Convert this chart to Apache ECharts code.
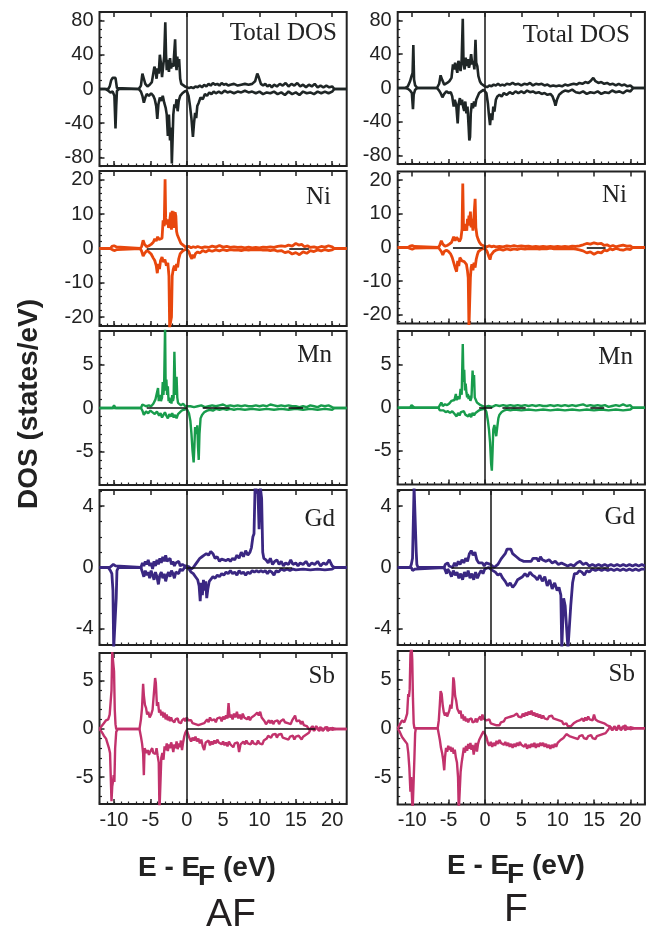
<!DOCTYPE html>
<html><head><meta charset="utf-8">
<script src="https://cdn.jsdelivr.net/npm/echarts@6/dist/echarts.min.js"></script>
<style>html,body{margin:0;padding:0;background:#fff}#c{width:646px;height:933px}</style>
</head><body><div id="c"></div>
<script>
// ---------------- DATA ([E - EF (eV), DOS (states/eV)]) ----------------
const xTickLabels = [-10, -5, 0, 5, 10, 15, 20];
const panelNames = ['Total DOS', 'Ni', 'Mn', 'Gd', 'Sb'];
const columnNames = ['AF', 'F'];

const totalAFUp = [[-12,0],[-10.8,0],[-10.6,3],[-10.4,10],[-10.2,13],[-10.0,12],[-9.8,13],[-9.6,1],[-9.4,0],[-6.6,0],[-6.3,4],[-6.1,18],[-5.9,12],[-5.7,6],[-5.4,3],[-5.1,5],[-4.8,8],[-4.6,10],[-4.45,26],[-4.3,22],[-4.15,12],[-4.0,24],[-3.85,18],[-3.7,40],[-3.55,30],[-3.4,14],[-3.25,26],[-3.1,38],[-2.95,78],[-2.85,40],[-2.75,22],[-2.6,34],[-2.45,20],[-2.3,36],[-2.15,24],[-2.0,30],[-1.85,26],[-1.7,45],[-1.6,58],[-1.5,30],[-1.4,22],[-1.3,38],[-1.2,26],[-1.05,35],[-0.9,12],[-0.75,6],[-0.5,5],[-0.25,3],[0,2],[0.3,1],[0.6,2],[0.9,1],[1.2,3],[1.5,2],[1.8,4],[2.1,2],[2.4,5],[2.7,3],[3,6],[3.3,4],[3.6,7],[3.9,5],[4.2,6],[4.5,4],[4.8,7],[5.1,5],[5.4,6],[5.7,4],[6,5],[6.5,6],[7,4],[7.5,5],[8,6],[8.5,5],[9,6],[9.4,9],[9.7,18],[9.9,14],[10.2,6],[10.5,4],[10.8,6],[11.1,3],[11.4,5],[11.7,2],[12,5],[12.4,3],[12.8,6],[13.2,4],[13.6,7],[14,3],[14.4,6],[14.8,4],[15.2,7],[15.6,3],[16,5],[16.4,2],[16.8,5],[17.2,3],[17.6,6],[18,2],[18.4,4],[18.8,2],[19.2,4],[19.6,2],[20,3],[20.3,0],[22,0]];
const totalAFDn = [[-12,0],[-11.2,0],[-10.8,-2],[-10.5,-4],[-10.2,-3],[-9.95,-8],[-9.8,-46],[-9.7,-20],[-9.6,-2],[-9.3,0],[-6.6,0],[-6.3,-3],[-6.1,-8],[-5.9,-16],[-5.7,-10],[-5.5,-6],[-5.2,-8],[-4.9,-5],[-4.6,-8],[-4.4,-12],[-4.2,-20],[-4.05,-35],[-3.9,-18],[-3.7,-10],[-3.5,-14],[-3.3,-8],[-3.1,-16],[-2.9,-22],[-2.75,-30],[-2.6,-55],[-2.45,-30],[-2.3,-60],[-2.15,-45],[-2.05,-87],[-1.95,-60],[-1.85,-30],[-1.7,-18],[-1.55,-22],[-1.4,-12],[-1.25,-26],[-1.1,-14],[-0.9,-8],[-0.6,-5],[-0.3,-3],[0,-2],[0.25,-8],[0.45,-20],[0.65,-35],[0.85,-56],[1.0,-40],[1.15,-28],[1.3,-34],[1.45,-20],[1.65,-16],[1.9,-10],[2.2,-12],[2.5,-6],[2.8,-8],[3.1,-4],[3.4,-6],[3.7,-3],[4,-5],[4.4,-3],[4.8,-5],[5.2,-2],[5.6,-4],[6,-3],[6.5,-5],[7,-3],[7.5,-4],[8,-2],[8.5,-4],[9,-3],[9.5,-5],[10,-3],[10.5,-6],[11,-4],[11.5,-5],[12,-3],[12.5,-6],[13,-4],[13.5,-7],[14,-3],[14.5,-6],[15,-4],[15.5,-7],[16,-3],[16.5,-5],[17,-4],[17.5,-6],[18,-3],[18.5,-5],[19,-3],[19.5,-5],[20,-3],[20.3,0],[22,0]];
const totalFUp = [[-12,0],[-11,0],[-10.6,2],[-10.3,8],[-10.1,14],[-9.95,18],[-9.85,51],[-9.75,10],[-9.6,3],[-9.3,0],[-6.6,0],[-6.3,5],[-6.1,15],[-5.9,10],[-5.6,4],[-5.2,6],[-4.9,8],[-4.6,12],[-4.4,28],[-4.25,22],[-4.1,30],[-3.95,24],[-3.8,18],[-3.65,32],[-3.5,28],[-3.35,20],[-3.2,34],[-3.05,82],[-2.95,30],[-2.8,22],[-2.65,36],[-2.5,26],[-2.35,34],[-2.2,24],[-2.05,30],[-1.9,40],[-1.75,28],[-1.6,32],[-1.45,22],[-1.3,57],[-1.2,30],[-1.05,26],[-0.9,14],[-0.7,8],[-0.5,5],[-0.25,3],[0,2],[0.3,1],[0.6,3],[0.9,2],[1.2,4],[1.5,3],[1.8,5],[2.1,3],[2.4,4],[2.7,3],[3,5],[3.4,4],[3.8,6],[4.2,4],[4.6,5],[5,3],[5.4,5],[5.8,4],[6.2,6],[6.6,3],[7,5],[7.4,4],[7.8,5],[8.2,3],[8.6,4],[9,2],[9.4,3],[9.8,2],[10.2,3],[10.6,2],[11,4],[11.4,3],[11.8,4],[12.2,5],[12.6,4],[13,6],[13.4,5],[13.8,7],[14.2,6],[14.6,9],[14.9,12],[15.2,8],[15.6,6],[16,7],[16.4,5],[16.8,6],[17.2,4],[17.6,5],[18,3],[18.4,5],[18.8,3],[19.2,4],[19.6,2],[20,3],[20.4,0],[22,0]];
const totalFDn = [[-12,0],[-11,0],[-10.6,-1],[-10.3,-3],[-10.05,-6],[-9.9,-25],[-9.8,-8],[-9.6,-2],[-9.3,0],[-6.6,0],[-6.3,-3],[-6.1,-6],[-5.85,-11],[-5.6,-7],[-5.3,-4],[-5,-6],[-4.7,-5],[-4.5,-10],[-4.3,-22],[-4.15,-14],[-3.95,-20],[-3.75,-42],[-3.6,-18],[-3.45,-12],[-3.3,-20],[-3.15,-14],[-3.0,-22],[-2.85,-27],[-2.7,-16],[-2.55,-30],[-2.4,-22],[-2.25,-45],[-2.15,-62],[-2.05,-58],[-1.95,-30],[-1.8,-18],[-1.65,-24],[-1.5,-16],[-1.35,-22],[-1.2,-14],[-1.0,-12],[-0.8,-6],[-0.5,-4],[-0.2,-2],[0,-1],[0.2,-6],[0.4,-18],[0.55,-32],[0.7,-44],[0.85,-30],[1.0,-38],[1.15,-22],[1.3,-28],[1.5,-14],[1.7,-10],[2,-8],[2.3,-10],[2.6,-6],[3,-8],[3.4,-5],[3.8,-7],[4.2,-4],[4.6,-6],[5,-4],[5.4,-6],[5.8,-3],[6.2,-5],[6.6,-4],[7,-6],[7.4,-5],[7.8,-7],[8.2,-6],[8.6,-8],[9,-7],[9.3,-10],[9.55,-16],[9.7,-21],[9.9,-14],[10.2,-8],[10.6,-5],[11,-3],[11.5,-4],[12,-2],[12.5,-5],[13,-6],[13.5,-4],[14,-7],[14.5,-5],[15,-6],[15.5,-4],[16,-7],[16.5,-5],[17,-6],[17.5,-3],[18,-5],[18.5,-4],[19,-6],[19.5,-3],[20,-4],[20.4,0],[22,0]];

const niAFUp = [[-12,0],[-10.5,0],[-10.3,0.6],[-10.0,0.8],[-9.7,0.5],[-9.5,0],[-6.4,0],[-6.2,0.6],[-6.0,2.4],[-5.8,1.2],[-5.5,0.5],[-5.2,0.8],[-4.9,1.2],[-4.6,1.8],[-4.4,2.8],[-4.2,2.2],[-4.0,3.4],[-3.8,2.6],[-3.6,2.2],[-3.4,3.0],[-3.25,8.2],[-3.1,6.5],[-2.98,20.2],[-2.9,9],[-2.8,7],[-2.65,8.5],[-2.5,6],[-2.35,8],[-2.2,10.5],[-2.1,5.5],[-2.0,11],[-1.9,7],[-1.8,10.8],[-1.7,6],[-1.6,10.6],[-1.5,9.5],[-1.4,5],[-1.3,4],[-1.15,3.5],[-1.0,2.5],[-0.8,1.5],[-0.5,1],[-0.2,0.5],[0,0.3],[0.3,0.6],[0.6,0.2],[0.9,0.5],[1.2,0.3],[1.5,0.6],[2,0.2],[2.5,0.5],[3,0.3],[3.5,0.7],[4,0.4],[4.5,0.9],[5,0.4],[5.5,0.6],[6,0.3],[6.5,0.5],[7,0.3],[7.5,0.4],[8,0.2],[8.5,0.4],[9,0.2],[9.5,0.3],[10,0.2],[10.5,0.4],[11,0.3],[11.5,0.5],[12,0.3],[12.5,0.6],[13,0.8],[13.5,0.6],[14,1.0],[14.5,0.7],[15,1.5],[15.4,1.0],[15.8,1.2],[16.2,0.5],[16.6,0.8],[17,0.3],[17.5,0.5],[18,0.2],[18.5,0.6],[19,0.4],[19.5,0.8],[20,0.5],[20.3,0],[22,0]];
const niAFDn = [[-12,0],[-10.5,0],[-10.2,-0.4],[-9.9,-0.6],[-9.6,-0.3],[-9.4,0],[-6.4,0],[-6.2,-0.8],[-6.0,-2.2],[-5.8,-1.4],[-5.5,-0.6],[-5.2,-1.0],[-4.9,-1.6],[-4.6,-2.8],[-4.4,-3.5],[-4.2,-5],[-4.05,-7.2],[-3.9,-4.5],[-3.75,-6],[-3.6,-3.5],[-3.4,-2.5],[-3.2,-4],[-3.0,-3.2],[-2.8,-5],[-2.6,-4.2],[-2.45,-8],[-2.35,-23],[-2.2,-23],[-2.1,-20],[-2.0,-8],[-1.85,-6],[-1.7,-5],[-1.55,-6.5],[-1.4,-4.5],[-1.25,-5.5],[-1.1,-3],[-0.9,-1.5],[-0.6,-0.8],[-0.3,-0.4],[0,-0.2],[0.3,-1],[0.5,-2.2],[0.7,-3],[0.85,-1.8],[1.0,-2.8],[1.2,-1.5],[1.5,-1],[1.8,-1.3],[2.2,-0.6],[2.6,-1],[3,-0.5],[3.5,-0.8],[4,-0.4],[4.5,-0.7],[5,-0.3],[5.5,-0.6],[6,-0.3],[6.5,-0.5],[7,-0.4],[7.5,-0.6],[8,-0.3],[8.5,-0.5],[9,-0.3],[9.5,-0.4],[10,-0.3],[10.5,-0.5],[11,-0.4],[11.5,-0.6],[12,-0.4],[12.5,-0.8],[13,-0.6],[13.5,-1.2],[14,-0.9],[14.5,-1.6],[15,-1.2],[15.5,-1.8],[16,-1.0],[16.5,-1.4],[17,-0.6],[17.5,-0.9],[18,-0.4],[18.5,-0.7],[19,-0.3],[19.5,-0.6],[20,-0.4],[20.3,0],[22,0]];
const niFUp = [[-12,0],[-10.6,0],[-10.3,0.4],[-10,0.6],[-9.7,0.3],[-9.5,0],[-6.4,0],[-6.2,0.8],[-6.0,2.0],[-5.8,1.0],[-5.5,0.4],[-5.2,0.6],[-4.9,1.0],[-4.6,1.5],[-4.3,3.2],[-4.1,2.0],[-3.9,3.0],[-3.7,2.4],[-3.5,1.8],[-3.3,2.8],[-3.15,5.5],[-3.05,19],[-2.95,6],[-2.8,5],[-2.65,7],[-2.5,5],[-2.4,8.5],[-2.3,6.5],[-2.2,9.5],[-2.1,7.5],[-2.0,10.7],[-1.9,6],[-1.8,8.5],[-1.65,5],[-1.5,4.5],[-1.35,14.5],[-1.25,6],[-1.1,3.5],[-0.95,2.5],[-0.75,1.5],[-0.5,0.8],[-0.2,0.5],[0,0.3],[0.3,0.2],[0.6,0.5],[0.9,0.2],[1.2,0.4],[1.5,0.2],[2,0.3],[2.5,0.2],[3,0.5],[3.5,0.3],[4,0.6],[4.5,0.3],[5,0.5],[5.5,0.3],[6,0.4],[6.5,0.2],[7,0.3],[7.5,0.2],[8,0.3],[8.5,0.2],[9,0.3],[9.5,0.2],[10,0.3],[10.5,0.2],[11,0.3],[11.5,0.2],[12,0.4],[12.5,0.3],[13,0.5],[13.5,0.8],[14,1.2],[14.5,1.0],[15,1.4],[15.5,1.1],[16,1.2],[16.4,0.6],[16.8,0.8],[17.2,0.3],[17.6,0.6],[18,0.2],[18.5,0.5],[19,0.7],[19.5,0.4],[20,0.5],[20.3,0],[22,0]];
const niFDn = [[-12,0],[-10.6,0],[-10.3,-0.3],[-10,-0.5],[-9.7,-0.2],[-9.5,0],[-6.4,0],[-6.2,-0.5],[-6.0,-1.2],[-5.8,-2.2],[-5.6,-1.2],[-5.3,-0.8],[-5.0,-1.2],[-4.7,-2],[-4.5,-3],[-4.3,-4.5],[-4.1,-6],[-3.9,-7.2],[-3.75,-4],[-3.6,-5.5],[-3.45,-3],[-3.3,-2.5],[-3.15,-4],[-3.0,-3.5],[-2.85,-4.2],[-2.7,-3.8],[-2.55,-5],[-2.4,-7],[-2.3,-9],[-2.2,-24],[-2.1,-24],[-2.0,-9],[-1.9,-6],[-1.8,-5],[-1.65,-6.8],[-1.5,-4.5],[-1.35,-6],[-1.2,-3.5],[-1.05,-2.2],[-0.9,-1.2],[-0.6,-0.7],[-0.3,-0.4],[0,-0.2],[0.3,-1.2],[0.5,-2.5],[0.7,-3.6],[0.85,-2.2],[1.0,-2.6],[1.2,-1.2],[1.5,-0.8],[2,-0.5],[2.5,-0.8],[3,-0.4],[3.5,-0.7],[4,-0.4],[4.5,-0.6],[5,-0.3],[5.5,-0.5],[6,-0.3],[6.5,-0.4],[7,-0.3],[7.5,-0.5],[8,-0.3],[8.5,-0.4],[9,-0.2],[9.5,-0.4],[10,-0.3],[10.5,-0.4],[11,-0.3],[11.5,-0.4],[12,-0.3],[12.5,-0.5],[13,-0.7],[13.5,-1.0],[14,-1.6],[14.5,-1.3],[15,-2.0],[15.5,-1.4],[16,-1.6],[16.4,-0.8],[16.8,-1.0],[17.2,-0.4],[17.6,-0.7],[18,-0.3],[18.5,-0.6],[19,-0.8],[19.5,-0.4],[20,-0.6],[20.3,0],[22,0]];

const mnAFUp = [[-12,0],[-10.2,0],[-10,0.3],[-9.8,0],[-6.3,0],[-6.1,0.4],[-5.9,0.6],[-5.6,0.2],[-5.2,0.3],[-4.9,0.2],[-4.6,0.5],[-4.3,1.0],[-4.1,0.8],[-3.95,2.3],[-3.85,0.8],[-3.7,1.5],[-3.55,0.8],[-3.4,1.2],[-3.3,3.0],[-3.2,1.5],[-3.1,3.2],[-2.98,9.5],[-2.9,2],[-2.8,3.3],[-2.7,1.5],[-2.6,2.5],[-2.5,0.8],[-2.4,1.2],[-2.3,0.6],[-2.2,1.0],[-2.1,0.5],[-2.0,1.5],[-1.9,0.8],[-1.8,1.2],[-1.7,6.5],[-1.6,3],[-1.5,1.5],[-1.4,3.6],[-1.3,1.2],[-1.2,0.6],[-1.0,0.8],[-0.8,0.3],[-0.5,0.5],[-0.2,0.2],[0,0.1],[0.5,0.2],[1,0.1],[1.5,0.2],[2,0.3],[2.5,0.1],[3,0.2],[3.5,0.3],[4,0.2],[4.5,0.3],[5,0.4],[5.5,0.2],[6,0.3],[6.5,0.2],[7,0.3],[7.5,0.2],[8,0.3],[8.5,0.2],[9,0.2],[9.5,0.3],[10,0.2],[10.5,0.3],[11,0.2],[11.5,0.4],[12,0.3],[12.5,0.2],[13,0.3],[13.5,0.2],[14,0.3],[14.5,0.2],[15,0.2],[15.5,0.1],[16,0.2],[16.5,0.1],[17,0.3],[17.5,0.2],[18,0.1],[18.5,0.3],[19,0.2],[19.5,0.3],[20,0.1],[20.3,0],[22,0]];
const mnAFDn = [[-12,0],[-10.2,0],[-10,-0.2],[-9.8,0],[-6.3,0],[-6.1,-0.3],[-5.9,-0.8],[-5.6,-0.4],[-5.3,-0.6],[-5.0,-0.3],[-4.7,-0.5],[-4.4,-0.7],[-4.1,-0.4],[-3.8,-0.9],[-3.6,-0.6],[-3.4,-1.1],[-3.2,-0.8],[-3.0,-0.5],[-2.8,-0.9],[-2.6,-1.2],[-2.4,-0.7],[-2.2,-1.0],[-2.0,-0.6],[-1.8,-1.1],[-1.6,-0.8],[-1.4,-1.2],[-1.2,-0.7],[-1.0,-0.5],[-0.7,-0.3],[-0.4,-0.2],[0,-0.1],[0.3,-0.6],[0.5,-1.5],[0.65,-3],[0.8,-5],[0.95,-6.3],[1.05,-4.5],[1.15,-2.2],[1.3,-3],[1.45,-2],[1.55,-4.5],[1.65,-6],[1.75,-3],[1.9,-1.2],[2.1,-0.8],[2.4,-0.5],[2.8,-0.3],[3.2,-0.2],[3.6,-0.3],[4,-0.1],[4.5,-0.2],[5,-0.1],[5.5,-0.2],[6,-0.1],[6.5,-0.2],[7,-0.1],[8,-0.2],[9,-0.1],[10,-0.2],[11,-0.1],[12,-0.2],[13,-0.1],[14,-0.2],[15,-0.1],[16,-0.2],[17,-0.1],[18,-0.2],[19,-0.1],[20,-0.2],[20.3,0],[22,0]];
const mnFUp = [[-12,0],[-10.3,0],[-10.1,0.3],[-9.9,0.2],[-9.7,0],[-6.4,0],[-6.2,0.3],[-6.0,0.6],[-5.8,0.2],[-5.5,0.4],[-5.2,0.3],[-4.9,0.5],[-4.6,0.8],[-4.4,0.6],[-4.2,0.9],[-4.0,1.6],[-3.9,0.9],[-3.7,1.3],[-3.5,1.0],[-3.35,2.2],[-3.2,1.5],[-3.05,7.4],[-2.95,3],[-2.85,4.4],[-2.75,2],[-2.65,2.8],[-2.55,1.8],[-2.45,1.2],[-2.35,1.6],[-2.25,1.0],[-2.15,1.4],[-2.0,0.8],[-1.85,1.2],[-1.7,4.3],[-1.6,2.5],[-1.5,3.8],[-1.4,1.2],[-1.25,0.9],[-1.1,0.6],[-0.9,0.4],[-0.6,0.3],[-0.3,0.2],[0,0.1],[0.5,0.2],[1,0.1],[1.5,0.3],[2,0.2],[2.5,0.3],[3,0.2],[3.5,0.3],[4,0.2],[4.5,0.3],[5,0.2],[5.5,0.3],[6,0.2],[6.5,0.3],[7,0.2],[7.5,0.3],[8,0.2],[8.5,0.2],[9,0.3],[9.5,0.2],[10,0.3],[10.5,0.2],[11,0.3],[11.5,0.2],[12,0.3],[12.5,0.2],[13,0.3],[13.5,0.4],[14,0.2],[14.5,0.3],[15,0.2],[15.5,0.3],[16,0.2],[16.5,0.3],[17,0.1],[17.5,0.2],[18,0.3],[18.5,0.2],[19,0.4],[19.5,0.2],[20,0.3],[20.3,0],[22,0]];
const mnFDn = [[-12,0],[-10.3,0],[-10.1,-0.2],[-9.9,0],[-6.4,0],[-6.2,-0.3],[-6.0,-0.5],[-5.7,-0.3],[-5.4,-0.5],[-5.1,-0.4],[-4.8,-0.6],[-4.5,-0.4],[-4.2,-0.7],[-3.9,-1.0],[-3.7,-0.6],[-3.5,-0.9],[-3.3,-0.5],[-3.1,-0.7],[-2.9,-0.4],[-2.7,-0.8],[-2.5,-0.6],[-2.3,-1.0],[-2.1,-0.7],[-1.9,-1.1],[-1.7,-0.6],[-1.5,-0.9],[-1.3,-0.6],[-1.1,-0.4],[-0.8,-0.3],[-0.5,-0.2],[0,-0.1],[0.2,-0.5],[0.4,-1.5],[0.55,-2.5],[0.7,-4],[0.85,-6.5],[0.95,-7.3],[1.05,-5],[1.15,-2.5],[1.3,-2],[1.45,-2.8],[1.55,-3.3],[1.7,-2.2],[1.85,-1.2],[2.0,-0.8],[2.3,-0.5],[2.7,-0.3],[3,-0.2],[3.5,-0.3],[4,-0.2],[5,-0.3],[6,-0.2],[7,-0.3],[8,-0.2],[9,-0.3],[10,-0.2],[11,-0.3],[12,-0.2],[13,-0.3],[14,-0.2],[15,-0.3],[16,-0.2],[17,-0.3],[18,-0.2],[19,-0.3],[20,-0.2],[20.3,0],[22,0]];

const gdAFUp = [[-12,0],[-10.6,0],[-10.4,0.1],[-10.1,0.2],[-9.8,0.1],[-9.6,0],[-6.3,0],[-6.1,0.3],[-5.9,0.1],[-5.7,0.4],[-5.5,0.2],[-5.3,0.5],[-5.1,0.1],[-4.9,0.3],[-4.7,-0.1],[-4.5,0.4],[-4.3,0.1],[-4.1,0.5],[-3.9,0.2],[-3.7,0.6],[-3.5,0.3],[-3.3,0.7],[-3.1,0.4],[-2.9,0.8],[-2.7,0.4],[-2.5,0.3],[-2.3,0.6],[-2.1,0.2],[-1.9,0.4],[-1.7,0.1],[-1.5,0.3],[-1.3,0.2],[-1.1,0.4],[-0.9,0.1],[-0.6,0.2],[-0.3,0.1],[0,0.1],[0.3,0.05],[0.6,-0.1],[0.9,0],[1.2,0.2],[1.5,0.4],[1.8,0.6],[2.1,0.7],[2.4,0.8],[2.7,0.9],[3.0,0.8],[3.3,1.05],[3.6,0.9],[3.9,0.6],[4.2,0.7],[4.5,0.4],[4.8,0.55],[5.1,0.5],[5.4,0.45],[5.7,0.55],[6,0.4],[6.3,0.6],[6.6,0.5],[6.9,0.8],[7.2,0.6],[7.5,1.0],[7.8,0.7],[8.1,1.1],[8.4,0.8],[8.7,1.0],[8.9,1.3],[9.1,2.0],[9.25,2.2],[9.4,5.3],[9.6,5.3],[9.8,4.8],[9.95,2.5],[10.1,5.3],[10.3,4.5],[10.45,1.0],[10.6,0.6],[10.9,0.5],[11.2,0.3],[11.5,0.6],[11.8,0.2],[12.1,0.4],[12.4,0.5],[12.7,0.2],[13,0.4],[13.3,0.1],[13.6,0.3],[14,0.2],[14.3,0.5],[14.6,0.2],[15,0.3],[15.3,0.1],[15.6,0.3],[16,0.2],[16.4,0.4],[16.8,0.1],[17.2,0.3],[17.6,0.2],[18,0.4],[18.4,0.1],[18.8,0.3],[19.2,0.2],[19.6,0.5],[20,0.1],[20.3,0],[22,0]];
const gdAFDn = [[-12,0],[-10.8,0],[-10.5,-0.2],[-10.3,-0.4],[-10.15,-1.5],[-10.05,-5.3],[-9.8,-5.3],[-9.7,-2],[-9.6,-0.2],[-9.4,0],[-6.3,0],[-6.1,-0.3],[-5.9,-0.6],[-5.7,-0.2],[-5.5,-0.5],[-5.3,-0.3],[-5.1,-0.7],[-4.9,-0.2],[-4.7,-0.5],[-4.5,-0.8],[-4.3,-0.3],[-4.1,-0.6],[-3.9,-1.1],[-3.7,-0.5],[-3.5,-0.3],[-3.3,-0.7],[-3.1,-0.4],[-2.9,-0.9],[-2.7,-0.5],[-2.5,-0.3],[-2.3,-0.6],[-2.1,-0.2],[-1.9,-0.4],[-1.7,-0.7],[-1.5,-0.3],[-1.3,-0.2],[-1.1,-0.4],[-0.9,-0.1],[-0.6,-0.2],[-0.3,0],[0,0],[0.3,-0.1],[0.6,-0.3],[0.9,-0.4],[1.2,-0.6],[1.5,-0.8],[1.7,-1.2],[1.85,-2.2],[2.0,-1.0],[2.15,-1.8],[2.3,-0.8],[2.45,-1.5],[2.6,-0.9],[2.75,-2.0],[2.9,-1.4],[3.1,-0.9],[3.3,-0.8],[3.6,-0.6],[3.9,-0.7],[4.2,-0.5],[4.5,-0.6],[4.8,-0.4],[5.1,-0.5],[5.4,-0.3],[5.7,-0.4],[6,-0.2],[6.3,-0.4],[6.6,-0.3],[6.9,-0.5],[7.2,-0.2],[7.5,-0.4],[7.8,-0.3],[8.1,-0.5],[8.4,-0.3],[8.7,-0.4],[9,-0.2],[9.3,-0.3],[9.6,-0.2],[9.9,-0.3],[10.2,-0.2],[10.5,-0.3],[10.8,-0.2],[11.1,-0.4],[11.4,-0.2],[11.7,-0.3],[12,-0.5],[12.3,-0.2],[12.6,-0.3],[13,-0.1],[13.4,-0.2],[13.8,-0.1],[14.2,-0.2],[14.6,-0.1],[15,-0.15],[16,-0.1],[17,-0.15],[18,-0.1],[19,-0.15],[20,-0.1],[20.3,0],[22,0]];
const gdFUp = [[-15,0],[-13,0],[-12.8,0.2],[-12.6,0.6],[-12.45,0.5],[-12.35,5.3],[-12.15,5.3],[-12.0,1.0],[-11.9,0.2],[-11.7,0],[-7.5,0],[-7.3,0.2],[-7.1,0.1],[-6.9,0.3],[-6.7,0.1],[-6.4,0.2],[-6.1,0],[-5.8,0.3],[-5.5,0.1],[-5.2,0.4],[-4.9,0.2],[-4.6,0.5],[-4.3,0.3],[-4.0,0.6],[-3.7,0.4],[-3.4,0.9],[-3.1,1.1],[-2.8,0.8],[-2.5,1.0],[-2.2,0.5],[-1.9,0.3],[-1.6,0.2],[-1.3,0.3],[-1.0,0.1],[-0.7,0.3],[-0.4,0.2],[0,0.2],[0.3,0.1],[0.6,0],[0.9,0.1],[1.2,0.2],[1.5,0.4],[1.8,0.6],[2.1,0.7],[2.4,0.9],[2.7,1.2],[3.0,1.1],[3.3,1.2],[3.6,0.9],[3.9,1.0],[4.2,0.7],[4.5,0.8],[4.8,0.5],[5.1,0.6],[5.4,0.4],[5.7,0.5],[6,0.4],[6.3,0.5],[6.6,0.4],[6.9,0.6],[7.2,0.5],[7.5,0.6],[7.8,0.4],[8.1,0.7],[8.4,0.5],[8.7,0.6],[9,0.4],[9.5,0.5],[10,0.3],[10.5,0.4],[11,0.2],[11.5,0.3],[12,0.2],[12.5,0.1],[13,0.2],[13.5,0.1],[14,0.3],[14.5,0.4],[15,0.2],[15.5,0.3],[16,0.1],[16.5,0.2],[17,0.1],[17.5,0.2],[18,0.1],[18.5,0.2],[19,0.1],[19.5,0.2],[20,0.1],[20.5,0.2],[21,0.1],[21.5,0.2],[22,0.1],[22.5,0.2],[23,0.1],[23.5,0.2],[24,0.1],[24.5,0.2],[25,0.1]];
const gdFDn = [[-15,0],[-12.8,0],[-12.6,-0.2],[-12.4,-0.3],[-12.2,-0.1],[-12,0],[-7.5,0],[-7.3,-0.2],[-7.1,-0.4],[-6.9,-0.1],[-6.6,-0.3],[-6.3,-0.6],[-6.0,-0.2],[-5.7,-0.5],[-5.4,-0.3],[-5.1,-0.7],[-4.8,-0.4],[-4.5,-0.8],[-4.2,-0.3],[-3.9,-0.6],[-3.6,-0.2],[-3.3,-0.7],[-3.0,-0.4],[-2.7,-0.8],[-2.4,-0.3],[-2.1,-0.7],[-1.8,-0.4],[-1.5,-0.2],[-1.2,-0.4],[-0.9,-0.1],[-0.6,-0.2],[-0.3,0],[0,-0.1],[0.4,-0.2],[0.8,-0.3],[1.2,-0.5],[1.6,-0.4],[2.0,-0.7],[2.4,-0.9],[2.8,-1.2],[3.2,-1.0],[3.6,-1.3],[4.0,-1.1],[4.4,-0.8],[4.8,-0.7],[5.2,-0.6],[5.6,-0.4],[6.0,-0.6],[6.4,-0.3],[6.8,-0.5],[7.2,-0.6],[7.6,-0.8],[8.0,-0.5],[8.4,-0.9],[8.8,-0.6],[9.2,-1.2],[9.6,-0.8],[10.0,-1.4],[10.4,-1.0],[10.8,-1.5],[11.1,-1.3],[11.4,-1.8],[11.55,-5.3],[11.75,-5.3],[11.85,-2.0],[12.1,-2.5],[12.55,-5.3],[12.85,-5.3],[13.0,-2.5],[13.3,-1.0],[13.6,-0.4],[14,-0.4],[14.4,-0.2],[14.8,-0.3],[15.2,-0.5],[15.6,-0.2],[16,-0.3],[16.5,-0.1],[17,-0.2],[17.5,-0.1],[18,-0.2],[18.5,-0.1],[19,-0.2],[19.5,-0.1],[20,-0.2],[20.5,-0.1],[21,-0.2],[21.5,-0.1],[22,-0.2],[22.5,-0.1],[23,-0.2],[23.5,-0.1],[24,-0.2],[24.5,-0.1],[25,-0.1]];

const sbAFUp = [[-12,0],[-11.7,0.3],[-11.4,0.6],[-11.1,0.9],[-10.8,1.0],[-10.6,1.5],[-10.45,3],[-10.35,4],[-10.25,8],[-10.15,8],[-10.0,6],[-9.9,2],[-9.8,0.5],[-9.7,0],[-6.5,0],[-6.3,1],[-6.15,2.2],[-6.0,4.7],[-5.9,3.5],[-5.75,2.5],[-5.6,2.2],[-5.45,1.5],[-5.3,1.8],[-5.1,1.2],[-4.9,1.5],[-4.7,2],[-4.5,1.8],[-4.35,5.3],[-4.25,4.8],[-4.1,2.4],[-3.95,2.8],[-3.8,1.7],[-3.65,2.0],[-3.5,1.4],[-3.35,1.8],[-3.2,1.2],[-3.05,1.7],[-2.9,1.0],[-2.75,1.5],[-2.6,0.9],[-2.45,1.3],[-2.3,0.8],[-2.15,1.2],[-2.0,0.9],[-1.85,1.1],[-1.7,0.7],[-1.55,1.0],[-1.4,0.8],[-1.25,1.1],[-1.1,0.7],[-0.95,0.9],[-0.8,0.6],[-0.65,0.9],[-0.5,0.7],[-0.35,1.1],[-0.2,0.8],[0,1.2],[0.2,0.9],[0.4,0.7],[0.6,0.9],[0.8,0.6],[1.0,0.8],[1.2,0.5],[1.4,0.7],[1.6,0.4],[1.8,0.2],[2.0,0.5],[2.2,0.3],[2.4,0.6],[2.6,0.8],[2.8,1.0],[3.0,0.7],[3.2,1.2],[3.4,0.9],[3.6,0.8],[3.8,1.0],[4.0,0.7],[4.2,1.1],[4.4,0.9],[4.6,1.2],[4.8,0.8],[5.0,1.3],[5.2,1.0],[5.4,1.4],[5.6,1.1],[5.75,2.7],[5.9,1.2],[6.1,1.5],[6.3,1.0],[6.5,1.6],[6.7,1.2],[6.9,1.8],[7.1,1.1],[7.3,1.5],[7.5,1.0],[7.7,1.6],[7.9,1.2],[8.1,1.4],[8.3,1.0],[8.5,1.3],[8.7,0.9],[8.9,1.2],[9.1,1.0],[9.3,1.4],[9.5,1.2],[9.7,1.7],[9.9,1.4],[10.1,1.8],[10.3,1.2],[10.5,1.0],[10.7,0.8],[10.9,0.5],[11.1,0.4],[11.3,0.9],[11.5,0.6],[11.7,0.9],[11.9,0.5],[12.1,0.8],[12.3,0.6],[12.5,0.9],[12.7,0.5],[12.9,0.8],[13.1,0.6],[13.3,1.0],[13.5,0.7],[13.7,0.9],[13.9,0.6],[14.1,0.8],[14.3,0.5],[14.5,0.9],[14.7,0.7],[14.9,1.4],[15.1,0.8],[15.3,0.6],[15.5,0.9],[15.7,0.5],[15.9,0.8],[16.1,0.4],[16.3,0.6],[16.5,0.3],[16.7,0.2],[16.9,-0.1],[17.2,0.2],[17.5,-0.2],[17.8,0.3],[18.1,-0.1],[18.4,0.2],[18.7,-0.2],[19.0,0.1],[19.3,0.2],[19.6,-0.1],[20.0,0.1],[20.5,0],[22,0]];
const sbAFDn = [[-12,0],[-11.7,-0.3],[-11.4,-0.7],[-11.1,-1.0],[-10.9,-1.5],[-10.7,-2.0],[-10.55,-2.5],[-10.45,-5],[-10.35,-7.5],[-10.25,-6],[-10.15,-5.5],[-10.05,-4.8],[-9.95,-5.5],[-9.85,-2],[-9.7,-0.3],[-9.5,0],[-6.5,0],[-6.3,-0.8],[-6.15,-1.5],[-6.0,-2.5],[-5.9,-4.8],[-5.8,-2.0],[-5.65,-1.8],[-5.5,-2.5],[-5.35,-2.2],[-5.2,-2.7],[-5.05,-2.4],[-4.9,-2.6],[-4.75,-2.0],[-4.6,-2.5],[-4.45,-2.3],[-4.3,-2.6],[-4.15,-2.0],[-4.0,-2.8],[-3.85,-3.5],[-3.75,-8.5],[-3.65,-8.5],[-3.5,-3],[-3.35,-2.5],[-3.2,-3.2],[-3.05,-1.8],[-2.9,-2.2],[-2.75,-1.5],[-2.6,-2.3],[-2.45,-1.6],[-2.3,-2.0],[-2.15,-1.4],[-2.0,-1.8],[-1.85,-2.4],[-1.7,-1.6],[-1.55,-2.0],[-1.4,-1.3],[-1.25,-2.1],[-1.1,-1.5],[-0.95,-1.9],[-0.8,-1.2],[-0.65,-2.2],[-0.5,-1.4],[-0.35,-0.8],[-0.2,-0.4],[0,-0.1],[0.2,-0.6],[0.4,-1.0],[0.6,-1.3],[0.8,-0.9],[1.0,-1.2],[1.2,-0.8],[1.4,-1.3],[1.6,-1.0],[1.8,-1.5],[2.0,-1.1],[2.2,-1.8],[2.4,-2.2],[2.6,-1.4],[2.8,-1.6],[3.0,-1.2],[3.2,-1.7],[3.4,-1.3],[3.6,-1.6],[3.8,-1.2],[4.0,-1.5],[4.2,-1.1],[4.4,-1.4],[4.6,-1.2],[4.8,-1.6],[5.0,-1.3],[5.2,-1.7],[5.4,-1.4],[5.6,-1.8],[5.8,-1.3],[6.0,-1.6],[6.2,-1.4],[6.4,-1.9],[6.6,-1.5],[6.8,-1.7],[7.0,-1.4],[7.2,-2.4],[7.4,-1.6],[7.6,-1.8],[7.8,-1.3],[8.0,-1.6],[8.2,-1.2],[8.4,-1.5],[8.6,-1.3],[8.8,-1.6],[9.0,-1.2],[9.2,-1.5],[9.4,-1.3],[9.6,-1.6],[9.8,-1.2],[10.0,-1.5],[10.2,-1.3],[10.4,-1.6],[10.6,-1.2],[10.8,-1.3],[11.0,-1.0],[11.2,-0.7],[11.4,-0.6],[11.6,-0.9],[11.8,-0.6],[12.0,-0.8],[12.2,-0.5],[12.4,-0.9],[12.6,-0.6],[12.8,-0.8],[13.0,-0.5],[13.2,-0.9],[13.4,-0.7],[13.6,-1.0],[13.8,-0.8],[14.0,-1.1],[14.2,-0.8],[14.4,-1.0],[14.6,-0.7],[14.8,-1.1],[15.0,-0.8],[15.2,-1.0],[15.4,-0.7],[15.6,-0.9],[15.8,-1.1],[16.0,-0.8],[16.2,-1.0],[16.4,-0.6],[16.6,-0.8],[16.8,-0.4],[17.0,-0.1],[17.3,0.3],[17.6,-0.1],[17.9,0.2],[18.2,-0.2],[18.5,0.1],[18.8,-0.1],[19.1,0.2],[19.4,-0.2],[19.7,0.1],[20,-0.1],[20.5,0],[22,0]];
const sbFUp = [[-12,0],[-11.7,0.4],[-11.4,0.8],[-11.1,0.6],[-10.9,1.0],[-10.7,1.5],[-10.55,3.5],[-10.45,3.2],[-10.35,4.0],[-10.25,7.5],[-10.1,8.5],[-10.0,7],[-9.9,3],[-9.8,0.5],[-9.7,0],[-6.5,0],[-6.35,0.8],[-6.2,2.5],[-6.1,3.8],[-5.95,3.5],[-5.8,2.3],[-5.65,1.6],[-5.5,1.3],[-5.35,1.6],[-5.2,1.2],[-5.05,1.5],[-4.9,1.8],[-4.75,2.4],[-4.6,2.0],[-4.45,3.3],[-4.35,5.2],[-4.25,4.8],[-4.1,3.3],[-3.95,2.8],[-3.8,2.0],[-3.65,2.2],[-3.5,1.5],[-3.35,1.8],[-3.2,1.0],[-3.05,1.4],[-2.9,0.8],[-2.75,1.2],[-2.6,0.7],[-2.45,1.0],[-2.3,0.6],[-2.15,0.9],[-2.0,0.7],[-1.85,1.0],[-1.7,0.6],[-1.55,0.8],[-1.4,0.7],[-1.25,1.0],[-1.1,0.6],[-0.95,0.9],[-0.8,0.7],[-0.65,1.2],[-0.5,0.8],[-0.35,1.4],[-0.2,1.0],[0,1.2],[0.2,0.8],[0.4,0.6],[0.6,0.9],[0.8,0.5],[1.0,0.7],[1.2,0.4],[1.4,0.6],[1.6,0.3],[1.8,0.4],[2.0,0.3],[2.2,0.6],[2.4,0.8],[2.6,0.7],[2.8,1.0],[3.0,0.8],[3.2,1.1],[3.4,0.9],[3.6,1.2],[3.8,1.0],[4.0,1.3],[4.2,1.1],[4.4,1.5],[4.6,1.2],[4.8,1.4],[5.0,1.1],[5.2,1.5],[5.4,1.2],[5.6,1.6],[5.8,1.3],[6.0,1.7],[6.2,1.4],[6.4,1.8],[6.6,1.3],[6.8,1.6],[7.0,1.2],[7.2,1.5],[7.4,1.1],[7.6,1.4],[7.8,1.0],[8.0,1.3],[8.2,1.0],[8.4,1.2],[8.6,0.9],[8.8,1.2],[9.0,1.0],[9.2,1.3],[9.4,1.0],[9.6,1.2],[9.8,0.9],[10.0,1.1],[10.2,0.8],[10.4,0.6],[10.6,0.7],[10.8,0.4],[11.0,0.3],[11.2,0.5],[11.4,0.2],[11.6,0.4],[11.8,0.2],[12.0,0.3],[12.2,0.5],[12.4,0.3],[12.6,0.7],[12.8,0.5],[13.0,0.8],[13.2,0.6],[13.4,1.0],[13.6,0.7],[13.8,1.1],[14.0,0.8],[14.2,1.2],[14.4,0.9],[14.6,1.1],[14.8,0.8],[15.0,1.4],[15.2,0.9],[15.4,1.0],[15.6,0.7],[15.8,0.9],[16.0,0.6],[16.2,0.8],[16.4,0.5],[16.6,0.6],[16.8,0.3],[17.0,0.5],[17.2,0.2],[17.5,-0.2],[17.8,0.2],[18.1,-0.1],[18.4,0.3],[18.7,-0.2],[19.0,0.1],[19.3,0.3],[19.6,-0.1],[20,0.1],[20.5,0],[22,0]];
const sbFDn = [[-12,0],[-11.7,-0.4],[-11.4,-0.9],[-11.1,-1.2],[-10.9,-1.0],[-10.7,-1.6],[-10.55,-2.5],[-10.4,-4],[-10.25,-6.5],[-10.15,-5],[-10.05,-6.8],[-9.95,-8.5],[-9.8,-8.5],[-9.7,-3],[-9.6,-0.5],[-9.5,0],[-6.5,0],[-6.35,-0.6],[-6.2,-1.2],[-6.05,-2.0],[-5.9,-2.5],[-5.75,-3.2],[-5.6,-4.3],[-5.5,-3.0],[-5.35,-2.0],[-5.2,-2.4],[-5.05,-1.8],[-4.9,-2.2],[-4.75,-1.9],[-4.6,-2.4],[-4.45,-2.0],[-4.3,-2.6],[-4.15,-2.2],[-4.0,-3.0],[-3.85,-3.5],[-3.7,-5],[-3.6,-8.5],[-3.45,-8.5],[-3.35,-4.5],[-3.2,-3.5],[-3.05,-3.3],[-2.9,-2.0],[-2.75,-2.5],[-2.6,-1.8],[-2.45,-2.3],[-2.3,-1.6],[-2.15,-2.1],[-2.0,-1.5],[-1.85,-2.2],[-1.7,-1.7],[-1.55,-2.7],[-1.4,-2.0],[-1.25,-1.5],[-1.1,-2.4],[-0.95,-1.6],[-0.8,-1.2],[-0.6,-1.0],[-0.4,-0.6],[-0.2,-0.3],[0,-0.1],[0.2,-0.9],[0.4,-1.5],[0.6,-1.8],[0.8,-1.4],[1.0,-1.9],[1.2,-1.5],[1.4,-1.8],[1.6,-1.3],[1.8,-1.6],[2.0,-1.2],[2.2,-1.5],[2.4,-1.3],[2.6,-1.7],[2.8,-1.4],[3.0,-1.8],[3.2,-1.5],[3.4,-1.9],[3.6,-1.6],[3.8,-2.0],[4.0,-1.6],[4.2,-1.9],[4.4,-1.5],[4.6,-1.8],[4.8,-1.4],[5.0,-1.7],[5.2,-1.5],[5.4,-1.9],[5.6,-1.6],[5.8,-2.1],[6.0,-1.7],[6.2,-2.0],[6.4,-1.6],[6.6,-1.9],[6.8,-1.5],[7.0,-2.0],[7.2,-1.6],[7.4,-1.9],[7.6,-1.5],[7.8,-1.8],[8.0,-1.5],[8.2,-1.9],[8.4,-1.6],[8.6,-2.0],[8.8,-1.7],[9.0,-2.1],[9.2,-1.7],[9.4,-2.0],[9.6,-1.6],[9.8,-1.9],[10.0,-1.5],[10.2,-1.6],[10.4,-1.2],[10.6,-1.3],[10.8,-1.0],[11.0,-0.9],[11.2,-0.6],[11.4,-0.5],[11.6,-0.8],[11.8,-0.6],[12.0,-0.9],[12.2,-0.7],[12.4,-1.0],[12.6,-0.8],[12.8,-1.1],[13.0,-0.8],[13.2,-1.0],[13.4,-0.7],[13.6,-1.0],[13.8,-0.8],[14.0,-1.1],[14.2,-0.8],[14.4,-1.0],[14.6,-0.7],[14.8,-1.0],[15.0,-0.8],[15.2,-1.1],[15.4,-0.8],[15.6,-1.0],[15.8,-0.7],[16.0,-0.9],[16.2,-0.6],[16.4,-0.8],[16.6,-0.5],[16.8,-0.3],[17.0,-0.1],[17.2,0.2],[17.5,-0.2],[17.8,0.1],[18.1,-0.2],[18.4,0.1],[18.7,-0.1],[19.0,0.2],[19.3,-0.2],[19.6,0.1],[20,-0.1],[20.5,0],[22,0]];

// black zero-level segments [start, end] in eV
const zeroSegAF = [[], [[-5.5,-0.5],[14.1,16.8]], [[-5.5,0],[2.2,5.9],[14,16]], [[0,14.5]], [[0,17.7]]];
const zeroSegF  = [[], [[-4.4,-0.3],[14,16.6]], [[-0.8,1],[2.4,5.6],[14.5,16.4]], [[-6.3,19.2]], [[0,16.4]]];

// y axis ranges and tick values per panel
const yRanges = [[-90,90],[-22.6,22.6],[-8.9,8.9],[-5.05,5.05],[-7.8,7.9]];
const yMajorTicks = [[-80,-40,0,40,80],[-20,-10,0,10,20],[-5,0,5],[-4,0,4],[-5,0,5]];
const yMinorStep = [10, 2, 1, 1, 1];
// x range per column/panel (the Gd F panel spans a wider energy window)
const xRangesAF = [[-12,22],[-12,22],[-12,22],[-12,22],[-12,22]];
const xRangesF  = [[-12,22],[-12,22],[-12,22],[-15,25],[-12,22]];

// ---------------- STYLE / LAYOUT ----------------
const colors = ['#1f2626', '#e8470d', '#189c4c', '#3a2782', '#c2326c'];
const lineWidths = [2.6, 2.8, 2.4, 2.8, 2.4];
const colLeft = [99.5, 397.7];
const colWidth = 247.2;
const rowsAF = [[12,166],[171,326],[331,485],[490,645],[653,804]];
const rowsF  = [[12,164],[171.5,323.5],[331,484.5],[490,645],[651,804.5]];
const titleRight = [[337,331,332,335,335],[630,627,633,635,635]];
const titleBase  = [[41.7,205.7,364.3,528.3,685],[44,204,365.7,525.7,683.3]];

const SANS = '"Liberation Sans", Arial, Helvetica, sans-serif';
const SERIF = '"Liberation Serif", "Times New Roman", serif';
const INK = '#222';

const dataAF = [[totalAFUp,totalAFDn],[niAFUp,niAFDn],[mnAFUp,mnAFDn],[gdAFUp,gdAFDn],[sbAFUp,sbAFDn]];
const dataF  = [[totalFUp,totalFDn],[niFUp,niFDn],[mnFUp,mnFDn],[gdFUp,gdFDn],[sbFUp,sbFDn]];

function range(a, b, s) { const out = []; for (let v = Math.ceil(a / s) * s; v <= b + 1e-9; v += s) out.push(+v.toFixed(4)); return out; }

const noLine = { show: false, onZero: false };
const grid = [], xAxis = [], yAxis = [], series = [], graphic = [];
for (let c = 0; c < 2; c++) {
  const rows = c === 0 ? rowsAF : rowsF;
  const data = c === 0 ? dataAF : dataF;
  const xr = c === 0 ? xRangesAF : xRangesF;
  const zseg = c === 0 ? zeroSegAF : zeroSegF;
  for (let p = 0; p < 5; p++) {
    const gi = grid.length;
    grid.push({ left: colLeft[c], width: colWidth, top: rows[p][0], height: rows[p][1] - rows[p][0],
      show: true, borderColor: INK, borderWidth: 2, backgroundColor: 'transparent', containLabel: false, outerBoundsMode: 'none' });
    const [xmin, xmax] = xr[p];
    const isBottom = p === 4;
    xAxis.push({ type: 'value', gridIndex: gi, min: xmin, max: xmax, position: 'bottom',
      axisLine: noLine, splitLine: { show: false },
      axisTick: { show: true, inside: true, length: 5, customValues: xTickLabels, lineStyle: { color: INK, width: 1.5 } },
      axisLabel: { show: isBottom, customValues: xTickLabels, margin: 6, fontSize: 20, color: INK, fontFamily: SANS } });
    xAxis.push({ type: 'value', gridIndex: gi, min: xmin, max: xmax, position: 'bottom',
      axisLine: noLine, splitLine: { show: false },
      axisTick: { show: true, inside: true, length: 2.5, customValues: range(xmin, xmax, 1), lineStyle: { color: INK, width: 1.2 } },
      axisLabel: { show: false } });
    xAxis.push({ type: 'value', gridIndex: gi, min: xmin, max: xmax, position: 'top',
      axisLine: noLine, splitLine: { show: false },
      axisTick: { show: true, inside: true, length: 5, customValues: xTickLabels, lineStyle: { color: INK, width: 1.5 } },
      axisLabel: { show: false } });
    const [ymin, ymax] = yRanges[p];
    yAxis.push({ type: 'value', gridIndex: gi, min: ymin, max: ymax, position: 'left',
      axisLine: noLine, splitLine: { show: false },
      axisTick: { show: true, inside: true, length: 5, customValues: yMajorTicks[p], lineStyle: { color: INK, width: 1.5 } },
      axisLabel: { show: true, customValues: yMajorTicks[p], margin: 6, fontSize: 20, color: INK, fontFamily: SANS } });
    yAxis.push({ type: 'value', gridIndex: gi, min: ymin, max: ymax, position: 'left',
      axisLine: noLine, splitLine: { show: false },
      axisTick: { show: true, inside: true, length: 2.5, customValues: range(ymin, ymax, yMinorStep[p]), lineStyle: { color: INK, width: 1.2 } },
      axisLabel: { show: false } });
    const xi = gi * 3, yi = gi * 2;
    const mlData = [{ xAxis: 0, lineStyle: { color: INK, width: 1.6, type: 'solid' } }];
    zseg[p].forEach(s => mlData.push([{ coord: [s[0], 0], lineStyle: { color: '#111', width: 1.6, type: 'solid' } }, { coord: [s[1], 0] }]));
    data[p].forEach((d, k) => {
      const s = { type: 'line', xAxisIndex: xi, yAxisIndex: yi, data: d, showSymbol: false, symbol: 'none',
        lineStyle: { color: colors[p], width: lineWidths[p] }, itemStyle: { color: colors[p] },
        animation: false, silent: true, clip: true, z: 3 };
      if (k === 0) s.markLine = { silent: true, symbol: ['none', 'none'], label: { show: false }, data: mlData, animation: false };
      series.push(s);
    });
    graphic.push({ type: 'text', x: titleRight[c][p], y: titleBase[c][p] - 8.5, silent: true,
      style: { text: panelNames[p], font: '25px ' + SERIF, fill: INK, align: 'right', verticalAlign: 'middle' } });
  }
}

const xl = [{ dx: 138, dy: 0 }, { dx: 447, dy: -2 }];
xl.forEach(o => {
  graphic.push({ type: 'text', x: o.dx, y: 868 + o.dy, silent: true, style: { text: 'E - E', font: 'bold 28px ' + SANS, fill: INK, align: 'left', verticalAlign: 'middle' } });
  graphic.push({ type: 'text', x: o.dx + 60, y: 877 + o.dy, silent: true, style: { text: 'F', font: 'bold 28px ' + SANS, fill: INK, align: 'left', verticalAlign: 'middle' } });
  graphic.push({ type: 'text', x: o.dx + 85, y: 868 + o.dy, silent: true, style: { text: '(eV)', font: 'bold 28px ' + SANS, fill: INK, align: 'left', verticalAlign: 'middle' } });
});
graphic.push({ type: 'text', x: 231, y: 915, silent: true, style: { text: columnNames[0], font: '39px ' + SANS, fill: '#231f20', align: 'center', verticalAlign: 'middle' } });
graphic.push({ type: 'text', x: 516, y: 910, silent: true, style: { text: columnNames[1], font: '39px ' + SANS, fill: '#231f20', align: 'center', verticalAlign: 'middle' } });
graphic.push({ type: 'text', x: 29, y: 404, rotation: Math.PI / 2, silent: true, style: { text: 'DOS (states/eV)', font: 'bold 28px ' + SANS, fill: INK, align: 'center', verticalAlign: 'middle' } });

const chart = echarts.init(document.getElementById('c'), null, { renderer: 'canvas' });
chart.setOption({ animation: false, backgroundColor: '#fff', grid, xAxis, yAxis, series, graphic });
</script>
</body></html>
